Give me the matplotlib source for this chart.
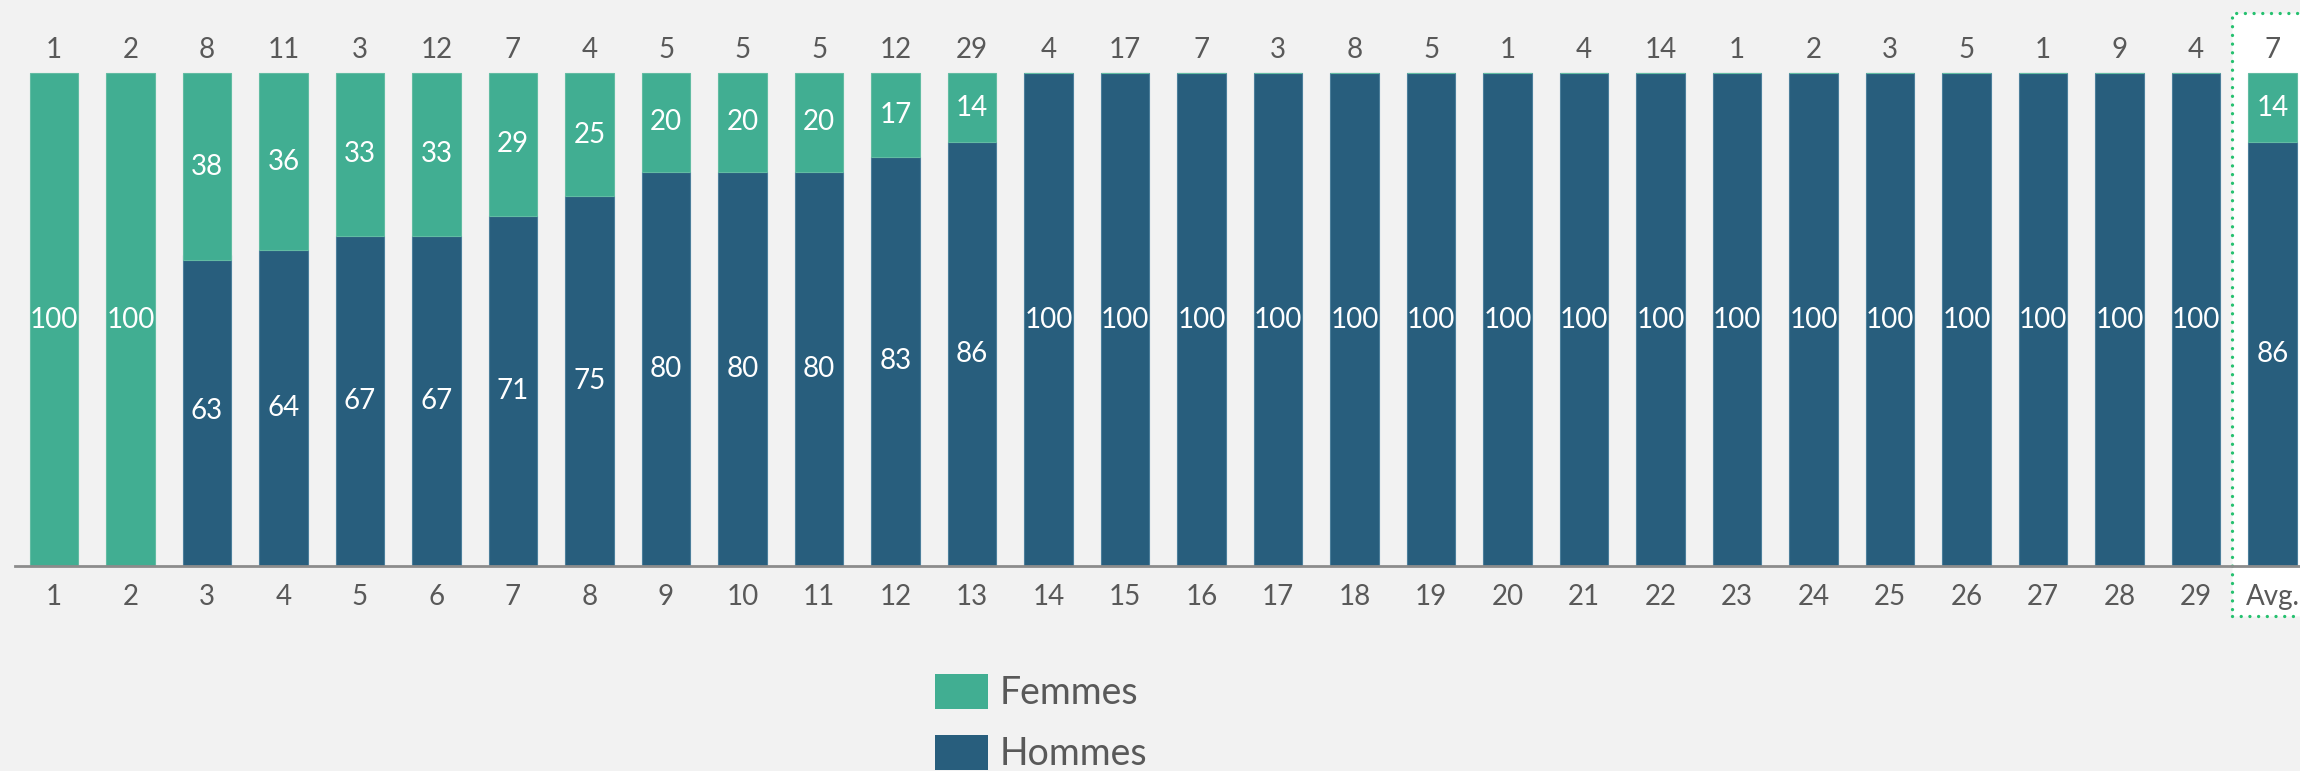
import matplotlib.pyplot as plt
from matplotlib.patches import Rectangle, Patch

# données
categories = [str(i) for i in range(1, 30)] + ['Avg.']
effectifs = [1, 2, 8, 11, 3, 12, 7, 4, 5, 5, 5, 12, 29, 4, 17, 7, 3, 8, 5, 1,
             4, 14, 1, 2, 3, 5, 1, 9, 4, 7]
femmes = [100, 100, 38, 36, 33, 33, 29, 25, 20, 20, 20, 17, 14] + [0] * 16 + [14]
hommes = [0, 0, 63, 64, 67, 67, 71, 75, 80, 80, 80, 83, 86] + [100] * 16 + [86]

VERT = '#41AE92'
BLEU = '#285E7D'
GRIS = '#595959'
FOND = '#F2F2F2'
CADRE = '#25C16F'
POLICE = ['Lato', 'DejaVu Sans']

fig = plt.figure(figsize=(23, 7.71), dpi=100, facecolor=FOND)
ax = fig.add_axes([0, 0, 1, 1])
ax.set_facecolor(FOND)
ax.axis('off')

x = list(range(len(categories)))
ax.set_xlim(-0.706, 29.359)
ax.set_ylim(-41.58, 114.81)

# cadre pointillé autour de la moyenne
cadre = Rectangle((28.47, -10.14), 2.0, 122.3, facecolor='white',
                  edgecolor=CADRE, linewidth=2.4,
                  linestyle=(0, (0.01, 2.6)), zorder=1)
cadre.set_capstyle('round')
ax.add_patch(cadre)

largeur = 0.63
ax.bar(x, hommes, width=largeur, color=BLEU, edgecolor='#4C7F9B',
       linewidth=0.8, zorder=2)
bas_f = [100 - f for f in femmes]
ax.bar(x, femmes, width=largeur, bottom=bas_f, color=VERT,
       edgecolor='#62BCA3', linewidth=0.8, zorder=3)

# ligne de base
ax.axhline(0, xmin=15 / 2300, xmax=1, color='#8C8C8C', linewidth=2, zorder=4)

for i in x:
    if hommes[i] > 0:
        ax.text(i, hommes[i] / 2, str(hommes[i]), ha='center', va='center',
                color='white', fontsize=20, family=POLICE, zorder=5)
    if femmes[i] > 0:
        ax.text(i, 100 - femmes[i] / 2, str(femmes[i]), ha='center',
                va='center', color='white', fontsize=20, family=POLICE,
                zorder=5)
    ax.text(i, 104.7, str(effectifs[i]), ha='center', va='center',
            color=GRIS, fontsize=20, family=POLICE, zorder=5)
    ax.text(i, -6.3, categories[i], ha='center', va='center',
            color=GRIS, fontsize=20, family=POLICE, zorder=5)

# légende
poignees = [Patch(facecolor=VERT, label='Femmes'),
            Patch(facecolor=BLEU, label='Hommes')]
ax.legend(handles=poignees, loc='upper left',
          bbox_to_anchor=(935 / 2300, 1 - 674 / 771),
          bbox_transform=fig.transFigure, frameon=False,
          prop={'family': POLICE, 'size': 27}, labelcolor=GRIS,
          handlelength=1.41, handleheight=1.07, handletextpad=0.32,
          labelspacing=0.62, borderpad=0, borderaxespad=0)

fig.savefig('out.png', dpi=100, facecolor=FOND)
